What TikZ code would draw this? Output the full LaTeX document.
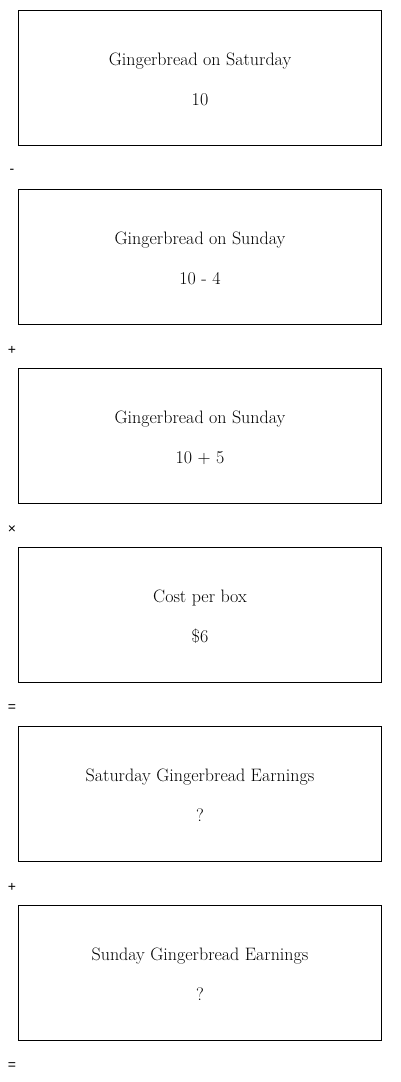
\documentclass[tikz,border=0pt]{standalone}
\usepackage{fontspec}
\newfontfamily\opfont{Liberation Sans}
\begin{document}
\begin{tikzpicture}[x=1pt,y=-1pt,
  box/.style={draw=black,line width=1pt,minimum width=363pt,minimum height=134.5pt,inner sep=0pt},
  lbl/.style={font=\fontsize{18}{21}\selectfont,inner sep=0pt,anchor=base},
  op/.style={font=\opfont\fontsize{14}{16}\selectfont,inner sep=0pt}]
\useasboundingbox (0,0) rectangle (400,1082);
\foreach \i/\a/\b/\o in {0/Gingerbread on Saturday/10/-,1/Gingerbread on Sunday/10 - 4/+,2/Gingerbread on Sunday/10 + 5/×,3/Cost per box/\$6/=,4/Saturday Gingerbread Earnings/?/+,5/Sunday Gingerbread Earnings/?/=}{
  \node[box] (b\i) at (200,{77.75+179*\i}) {};
  \node[lbl] (t\i) at (200,{65.5+179*\i}) {\a};
  \node[lbl] (v\i) at (200,{105.5+179*\i}) {\b};
  \node[op] (o\i) at (12,{171.5+179*\i}) {\o};
}
\end{tikzpicture}
\end{document}
